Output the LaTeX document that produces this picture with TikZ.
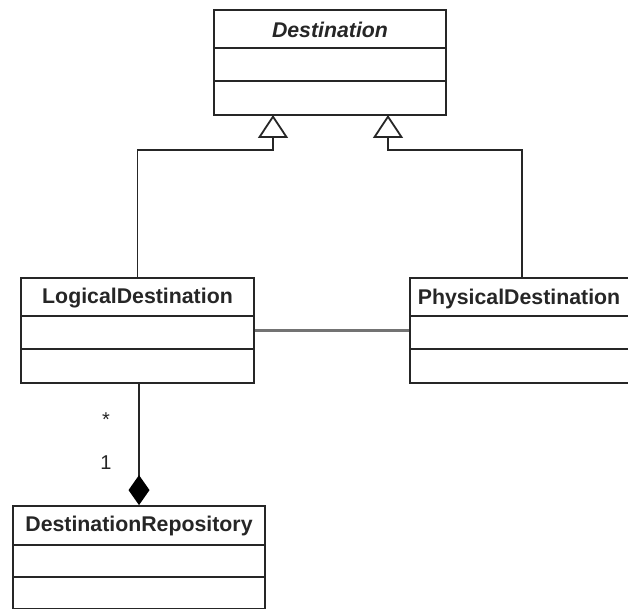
\documentclass[tikz,border=0pt]{standalone}
\usepackage{fontspec}
\setmainfont{Liberation Sans}
\usetikzlibrary{arrows.meta}
\begin{document}
\begin{tikzpicture}[x=1pt,y=-1pt,
  edge/.style={draw=black!85,line width=1.8pt},
  classbox/.style={edge,rectangle,inner sep=0pt,fill=white},
  title/.style={font=\fontsize{21.3}{24}\selectfont\bfseries,inner sep=0pt,text=black!85},
  gen/.style={edge,-{Triangle[open,length=23pt,width=30pt,line width=1.8pt]}},
  comp/.style={edge,-{Diamond[length=30pt,width=21pt,color=black,fill=black]}},
  assoc/.style={draw=black!55,line width=2.8pt},
  mult/.style={font=\fontsize{20}{24}\selectfont,inner sep=0pt,text=black!85}]
\useasboundingbox (0,0) rectangle (628,609);

% classes: whole box, then the two compartment rules and the name
\node[classbox,minimum width=232pt,minimum height=105pt] (D) at (330,62.5) {};
\draw[edge] (214,48) -- (446,48) (214,81) -- (446,81);
\node[title,font=\fontsize{21.3}{24}\selectfont\bfseries\itshape] (Dt) at (330,29.5) {Destination};

\node[classbox,minimum width=233pt,minimum height=105pt] (L) at (137.5,330.5) {};
\draw[edge] (21,316) -- (254,316) (21,349) -- (254,349);
\node[title] (Lt) at (137.5,298.5) {LogicalDestination};

\node[classbox,minimum width=224pt,minimum height=105pt] (P) at (522,330.5) {};
\draw[edge] (410,316) -- (634,316) (410,349) -- (634,349);
\node[title] (Pt) at (519,298.5) {PhysicalDestination};

\node[classbox,minimum width=252pt,minimum height=103pt] (R) at (139,557.5) {};
\draw[edge] (13,545) -- (265,545) (13,577) -- (265,577);
\node[title] (Rt) at (139,526) {DestinationRepository};

% generalisation arrows into the abstract class
\coordinate (dl) at (273,115);
\coordinate (dr) at (388,115);
\draw[gen] (L.north) -- (L.north |- 0,150) -| (dl);
\draw[gen] (P.north) -- (P.north |- 0,150) -| (dr);

% association between the two concrete destinations
\draw[assoc] (L.east) -- (P.west);

% composition of logical destinations in the repository
\draw[comp] (L.south -| R.north) -- (R.north);
\node[mult] (m1) at (106,420) {*};
\node[mult] (m2) at (106,463) {1};
\end{tikzpicture}
\end{document}
